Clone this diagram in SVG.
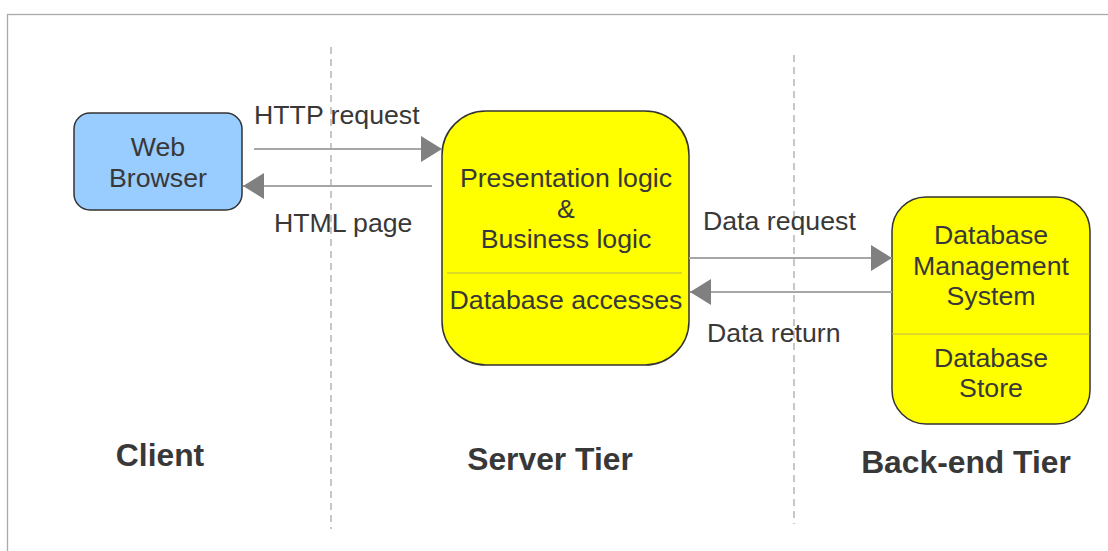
<svg xmlns="http://www.w3.org/2000/svg" width="1108" height="551" viewBox="0 0 1108 551">
  <style>
    text { font-family: "Liberation Sans", Arial, sans-serif; fill: #383838; }
    .lbl { font-size: 26.7px; }
    .tier { font-size: 31.8px; font-weight: bold; text-anchor: middle; }
    .mid { text-anchor: middle; }
    .box { stroke: #333333; stroke-width: 1.5; }
    .sep { stroke: #b8b850; stroke-width: 1.2; }
    .divider { stroke: #aaaaaa; stroke-width: 1.3; stroke-dasharray: 7 5; fill: none; }
    .flow { stroke: #a6a6a6; stroke-width: 2; fill: none; }
  </style>
  <defs>
    <marker id="head" markerUnits="userSpaceOnUse" markerWidth="21" markerHeight="26" refX="21" refY="13" orient="auto">
      <path d="M0,0 L21,13 L0,26 Z" fill="#808080"/>
    </marker>
  </defs>

  <rect width="1108" height="551" fill="#ffffff"/>
  <!-- page frame -->
  <rect x="7.5" y="14.5" width="1115" height="550" fill="none" stroke="#aaaaaa" stroke-width="1.3"/>

  <!-- tier dividers -->
  <g id="dividers">
    <line class="divider" x1="331" y1="47" x2="331" y2="529"/>
    <line class="divider" x1="794" y1="55" x2="794" y2="524"/>
  </g>

  <g id="web-browser">
    <rect class="box" x="74" y="113" width="168" height="97" rx="16" fill="#99ccff"/>
    <text class="lbl mid" x="158" y="156">Web</text>
    <text class="lbl mid" x="158" y="187">Browser</text>
  </g>

  <g id="server">
    <rect class="box" x="442" y="111" width="247" height="254" rx="44" fill="#ffff00"/>
    <line class="sep" x1="447" y1="273" x2="682" y2="273"/>
    <text class="lbl mid" x="566" y="187">Presentation logic</text>
    <text class="lbl mid" x="566" y="218">&amp;</text>
    <text class="lbl mid" x="566" y="248">Business logic</text>
    <text class="lbl mid" x="566" y="309">Database accesses</text>
  </g>

  <g id="backend">
    <rect class="box" x="892" y="197" width="198" height="227" rx="34" fill="#ffff00"/>
    <line class="sep" x1="892" y1="334" x2="1090" y2="334" stroke="#a8a870"/>
    <text class="lbl mid" x="991" y="244">Database</text>
    <text class="lbl mid" x="991" y="275">Management</text>
    <text class="lbl mid" x="991" y="305">System</text>
    <text class="lbl mid" x="991" y="367">Database</text>
    <text class="lbl mid" x="991" y="397">Store</text>
  </g>

  <g id="connectors">
    <line class="flow" x1="254" y1="149" x2="442" y2="149" marker-end="url(#head)"/>
    <line class="flow" x1="432" y1="186" x2="243" y2="186" marker-end="url(#head)"/>
    <line class="flow" x1="689" y1="258" x2="892" y2="258" marker-end="url(#head)"/>
    <line class="flow" x1="892" y1="292" x2="690" y2="292" marker-end="url(#head)"/>
    <text class="lbl" x="254" y="124">HTTP request</text>
    <text class="lbl" x="274" y="232">HTML page</text>
    <text class="lbl" x="703" y="230">Data request</text>
    <text class="lbl" x="707" y="342">Data return</text>
  </g>

  <g id="tier-labels">
    <text class="tier" x="160" y="466">Client</text>
    <text class="tier" x="550" y="470">Server Tier</text>
    <text class="tier" x="966" y="473">Back-end Tier</text>
  </g>
</svg>
